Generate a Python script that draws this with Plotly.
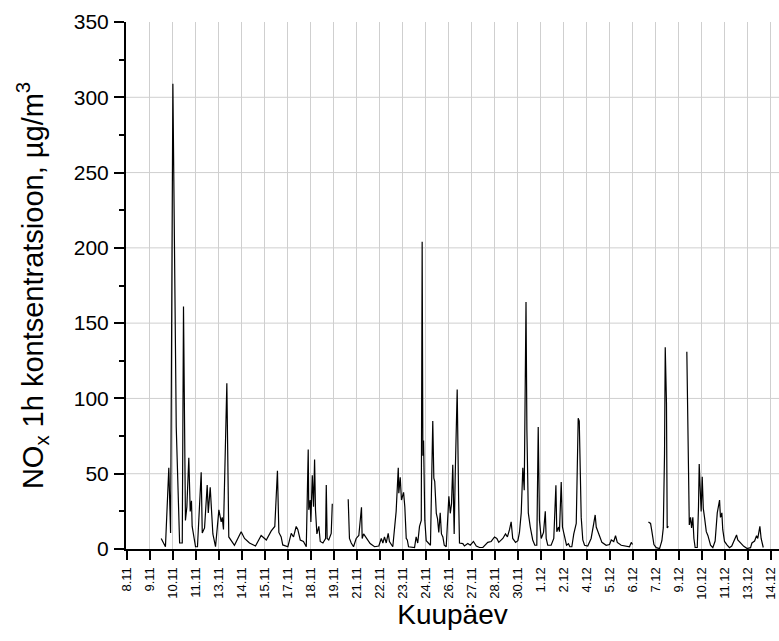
import plotly.graph_objects as go

# time in days since 1 Nov (December days are 30 + day), hourly NOx concentration
day = [
    9.96, 10.20, 10.39, 10.49, 10.62, 10.81, 11.00, 11.15, 11.22, 11.33, 11.41, 11.52, 11.60, 11.67, 11.71,
    11.90, 12.01, 12.22, 12.28, 12.41, 12.56, 12.62, 12.73, 12.88, 13.03, 13.22, 13.35, 13.41, 13.48, 13.67,
    13.78, 14.10, 14.48, 14.67, 14.95, 15.29, 15.61, 15.80, 15.90, 16.18, 16.38, 16.53, 16.61, 16.74, 16.83,
    17.12, 17.31, 17.44, 17.59, 17.68, 17.82, 18.00, 18.16, 18.27, 18.30, 18.38, 18.42, 18.50, 18.57, 18.63,
    18.68, 18.76, 18.87, 18.95, 19.10, 19.25, 19.29, 19.34, 19.43, 19.57, 19.63, 20.00,
    20.53, 20.60, 20.70, 20.83, 20.98, 21.13, 21.28, 21.32, 21.40, 21.58, 21.77, 22.02, 22.26, 22.40, 22.49,
    22.58, 22.68, 22.79, 22.86, 23.05, 23.24, 23.36, 23.39, 23.47, 23.54, 23.66, 23.73, 23.81, 23.87, 23.94,
    24.11, 24.28, 24.37, 24.46, 24.56, 24.66, 24.71, 24.75, 24.79, 24.86, 24.94, 25.09, 25.18, 25.31, 25.37,
    25.42, 25.51, 25.58, 25.65, 25.73, 25.80, 25.88, 25.96, 26.07, 26.22, 26.30, 26.37, 26.44, 26.52, 26.58,
    26.69, 26.77, 26.82, 27.01, 27.10, 27.29, 27.43, 27.61, 27.77, 27.95, 28.14, 28.42, 28.61, 28.80, 28.93,
    29.04, 29.27, 29.42, 29.53, 29.65, 29.74, 29.83, 29.99, 30.12, 30.21, 30.31, 30.40, 30.48, 30.51, 30.58,
    30.63, 30.71, 30.82, 30.96, 31.08, 31.19, 31.27, 31.34, 31.44, 31.57, 31.67, 31.72, 31.81, 32.00, 32.15,
    32.27, 32.32, 32.42, 32.47, 32.57, 32.64, 32.76, 32.87, 32.98, 33.06, 33.17, 33.28, 33.42, 33.49, 33.53,
    33.59, 33.64, 33.70, 33.79, 33.89, 34.07, 34.26, 34.41, 34.49, 34.55, 34.64, 34.73, 34.87, 35.11, 35.30,
    35.40, 35.54, 35.64, 35.74, 35.96, 36.24, 36.43, 36.53, 36.60, 37.00,
    37.50, 37.62, 37.69, 37.81, 37.94, 38.13, 38.26, 38.34, 38.41, 38.45, 38.52, 38.56, 38.63, 39.00,
    39.67, 39.77, 39.81, 39.88, 39.94, 40.01, 40.07, 40.14, 40.26, 40.33, 40.37, 40.43, 40.48, 40.54, 40.60,
    40.67, 40.77, 40.86, 41.01, 41.14, 41.27, 41.39, 41.46, 41.52, 41.57, 41.65, 41.70, 41.80, 41.95, 42.08,
    42.21, 42.36, 42.48, 42.55, 42.70, 42.89, 43.08, 43.27, 43.35, 43.50, 43.61, 43.68, 43.80, 43.87, 43.99,
]
nox = [
    7, 1.5, 54, 10.6, 309, 81, 4, 4, 161, 19, 28, 60.6, 25, 32, 15,
    1.5, 1.5, 51, 10.6, 14, 42.5, 24, 41, 10, 1.5, 26, 18, 21, 13, 110,
    8, 2.5, 11.5, 7, 4, 2, 9, 7, 6, 12, 15, 52, 11, 8, 2.7,
    1.5, 10.4, 8, 15, 13, 6, 5, 1.5, 66, 26, 32.5, 18, 49, 28, 59.5,
    26, 10, 15, 5, 4, 7, 42.5, 7, 6, 10.4, 30, None,
    33, 7, 4, 1.5, 7, 9, 27.7, 7, 10, 7, 3.6, 1.5, 2, 7, 4,
    8, 4, 10.4, 5, 1.5, 25, 54, 37, 47.6, 32.5, 37.6, 28, 7, 6, 1.5,
    1.5, 1, 8, 4, 15, 19, 204, 62, 72, 19, 5.5, 3.6, 2.5, 85, 47,
    45, 23.7, 20, 11, 24, 10, 8, 2.5, 1.5, 35, 23.7, 30, 56, 10, 50,
    106, 34, 4, 3.6, 2, 3.6, 2.5, 5, 2, 1, 1, 4.4, 5, 8, 7,
    4.4, 7, 10, 8, 13, 18, 7, 4.4, 5.5, 11, 24, 54, 39, 103, 164,
    79, 24, 14.6, 6, 2.5, 2.5, 81, 19, 7, 11, 25, 7, 2.5, 2.5, 7,
    42.3, 11.5, 14.6, 11.5, 44.5, 14.6, 7, 2.5, 3.5, 1.5, 1.5, 10, 17, 59, 86.8,
    85, 62, 21, 6, 2.5, 2, 7, 17, 22.6, 14.6, 12, 9, 4.4, 2.5, 3,
    6, 5, 8.8, 4.4, 2.5, 2.2, 1.5, 4.4, 3, None,
    18, 17, 12, 3, 0.9, 0.3, 5.5, 14, 63.5, 134, 96.7, 14, 15, None,
    131, 63.5, 16, 21, 14, 21, 7, 1, 1, 28, 56.4, 39, 25, 48, 27,
    21, 11.5, 9, 2.6, 0.9, 5.3, 24, 29, 32.5, 21, 24, 13, 5, 2.6, 0.9,
    2, 5.5, 9.3, 6, 4, 1.8, 0.3, 0.9, 4, 5.3, 8.8, 7, 15, 7, 1,
]

tick_labels = ["8.11", "9.11", "10.11", "11.11", "13.11", "14.11", "15.11", "17.11", "18.11",
               "19.11", "21.11", "22.11", "23.11", "24.11", "26.11", "27.11", "28.11", "30.11",
               "1.12", "2.12", "4.12", "5.12", "6.12", "7.12", "9.12", "10.12", "11.12",
               "13.12", "14.12"]
tick_start = 8.0
tick_step = 1.3
tick_vals = [tick_start + i * tick_step for i in range(len(tick_labels))]

y_grid = [50, 100, 150, 200, 250, 300]

FONT = "Liberation Sans, Arial, sans-serif"

fig = go.Figure()
fig.add_trace(go.Scatter(
    x=day, y=nox, mode="lines",
    line=dict(color="black", width=1.2),
    connectgaps=False, showlegend=False,
))

shapes = [
    dict(type="line", xref="paper", yref="y", x0=0, x1=1, y0=g, y1=g,
         line=dict(color="#cfcfcf", width=1), layer="below")
    for g in y_grid
]

fig.update_layout(
    width=779, height=641,
    margin=dict(l=126, r=0, t=22, b=92),
    paper_bgcolor="white", plot_bgcolor="white",
    font=dict(family=FONT, color="black"),
    shapes=shapes,
    xaxis=dict(
        range=[7.97, 44.88],
        automargin=False,
        tickmode="array", tickvals=tick_vals, ticktext=tick_labels,
        tickangle=-90,
        tickfont=dict(size=13, family=FONT),
        ticks="outside", ticklen=9, tickwidth=2, tickcolor="black",
        showline=True, linecolor="black", linewidth=2,
        showgrid=True, gridcolor="#cfcfcf", gridwidth=1,
        zeroline=False,
        ticklabelstandoff=2,
        title=dict(text="Kuupäev", font=dict(size=28, family=FONT), standoff=6),
    ),
    yaxis=dict(
        range=[0, 350],
        automargin=False,
        tickmode="array", tickvals=[0, 50, 100, 150, 200, 250, 300, 350],
        tickfont=dict(size=21, family=FONT),
        ticks="outside", ticklen=10, tickwidth=2, tickcolor="black",
        minor=dict(tickmode="array", tickvals=[25, 75, 125, 175, 225, 275, 325],
                   ticks="outside", ticklen=5, tickwidth=2, tickcolor="black", showgrid=False),
        showline=True, linecolor="black", linewidth=2,
        showgrid=False, zeroline=False,
        ticklabelstandoff=1,
        title=dict(text="NO<sub>x</sub> 1h kontsentratsioon, µg/m<sup>3</sup>",
                   font=dict(size=29, family=FONT), standoff=22),
    ),
)

fig.write_html("out.html",
               config={"displayModeBar": False},
               post_script="document.body.style.margin='0';document.body.style.padding='0';")
